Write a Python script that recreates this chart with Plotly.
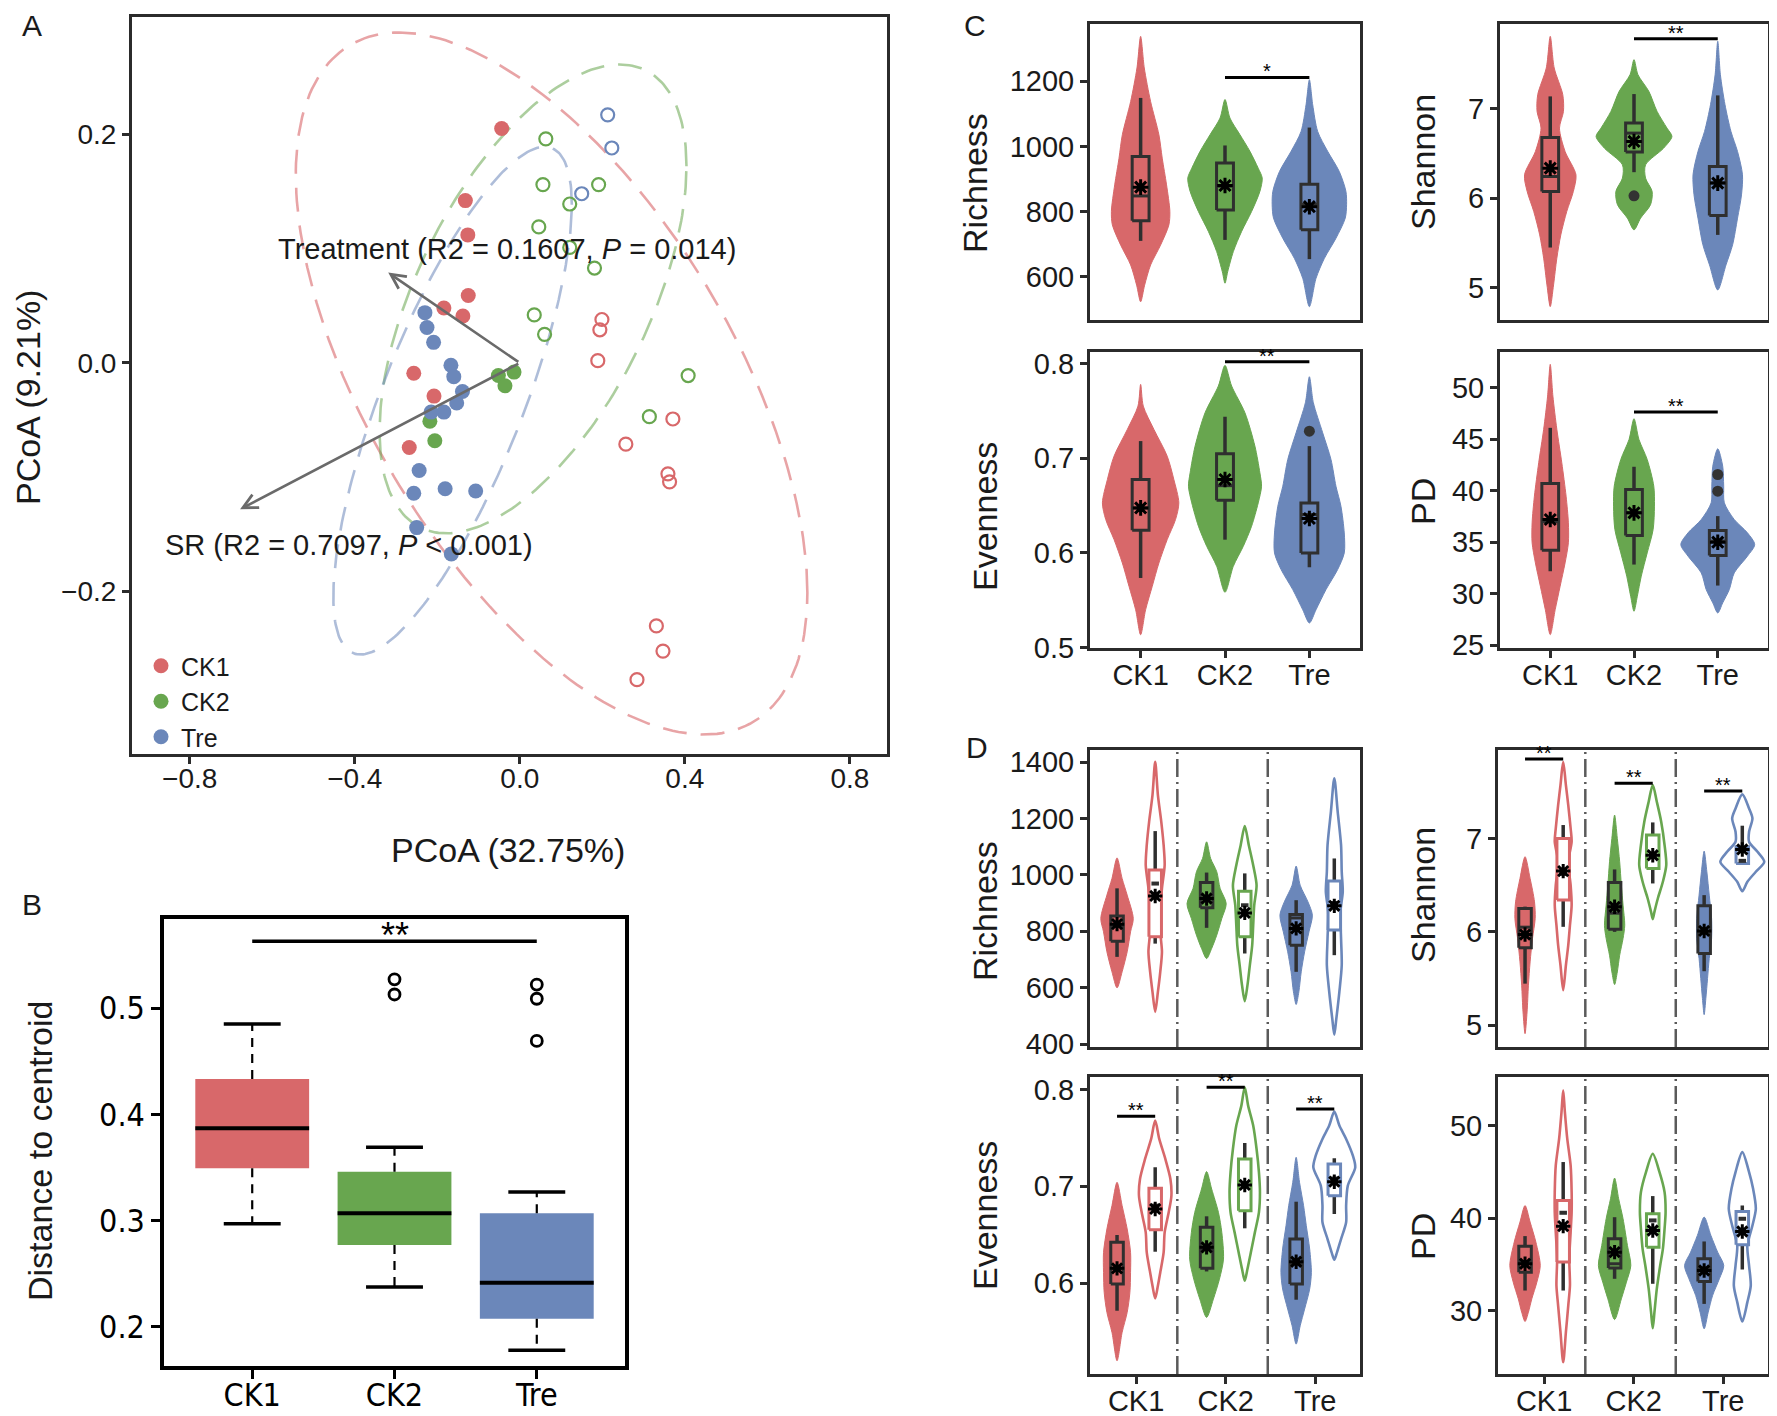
import numpy as np
import plotly.graph_objects as go

W, H = 1777, 1416          # browser window
OFF = 8                    # default body margin of the written page
FW, FH = W - OFF, H - OFF
RED, GREEN, BLUE = '#D8686A', '#68A64F', '#6B87BA'
COLS = [RED, GREEN, BLUE]
GROUPS = ['CK1', 'CK2', 'Tre']
FONT = 'Liberation Sans, Arial, sans-serif'
NARROW = 'Liberation Sans Narrow, DejaVu Sans Condensed, Liberation Sans, sans-serif'
FRAME = '#2b2b2b'
TXT = '#1a1a1a'
BOXLINE = '#2f2f2f'

# ---------------- Panel A : PCoA ----------------
a_ck1_fill_x = [-0.044, -0.132, -0.126, -0.125, -0.184, -0.138, -0.257, -0.208, -0.268]
a_ck1_fill_y = [0.205, 0.142, 0.112, 0.059, 0.048, 0.041, -0.009, -0.029, -0.074]
a_ck1_open_x = [0.199, 0.194, 0.189, 0.371, 0.257, 0.359, 0.363, 0.331, 0.347, 0.284]
a_ck1_open_y = [0.038, 0.029, 0.002, -0.049, -0.071, -0.097, -0.104, -0.230, -0.252, -0.277]
a_ck2_fill_x = [-0.052, -0.014, -0.036, -0.218, -0.206]
a_ck2_fill_y = [-0.011, -0.008, -0.020, -0.051, -0.068]
a_ck2_open_x = [0.063, 0.056, 0.191, 0.121, 0.046, 0.121, 0.181, 0.035, 0.060, 0.408, 0.314]
a_ck2_open_y = [0.196, 0.156, 0.156, 0.139, 0.119, 0.101, 0.083, 0.042, 0.025, -0.011, -0.047]
a_tre_fill_x = [-0.230, -0.225, -0.209, -0.167, -0.160, -0.139, -0.153, -0.184, -0.215, -0.244,
                -0.181, -0.107, -0.257, -0.250, -0.166]
a_tre_fill_y = [0.044, 0.031, 0.018, -0.002, -0.012, -0.025, -0.035, -0.043, -0.043, -0.094,
                -0.110, -0.112, -0.114, -0.144, -0.167]
a_tre_open_x = [0.213, 0.223, 0.150]
a_tre_open_y = [0.217, 0.188, 0.148]
# group ellipses: centre x, centre y, half-extent x, half-extent y, correlation
a_ell_cx = [0.077, 0.032, -0.163]
a_ell_cy = [-0.018, 0.056, -0.033]
a_ell_sx = [0.620, 0.372, 0.289]
a_ell_sy = [0.307, 0.205, 0.222]
a_ell_rho = [-0.596, 0.566, 0.772]
# envfit arrows
a_arrow_x = [-0.319, -0.678]
a_arrow_y = [0.079, -0.128]
a_arrow_lab = ['Treatment (R2 = 0.1607, <i>P</i> = 0.014)', 'SR (R2 = 0.7097, <i>P</i> &lt; 0.001)']
a_lab_x = [-0.031, -0.414]
a_lab_y = [0.0995, -0.159]

# ---------------- Panel B : distance to centroid ----------------
b_q1 = [0.3493, 0.277, 0.2077]
b_med = [0.387, 0.307, 0.2417]
b_q3 = [0.4333, 0.346, 0.307]
b_lo = [0.297, 0.2377, 0.178]
b_hi = [0.485, 0.369, 0.327]
b_out_x = [2, 2, 3, 3, 3]
b_out_y = [0.527, 0.5127, 0.522, 0.5087, 0.469]
b_sig_y = 0.5627

# ---------------- Panel C : alpha diversity by group ----------------
# violin profiles: y values and relative density (half width)
crich_ck1_y = [1338, 1241, 1138, 1036, 964, 882, 800, 759, 697, 636, 574, 523]
crich_ck1_d = [0, 11, 30, 55, 65, 78, 88, 85, 60, 30, 12, 0]
crich_ck2_y = [1144, 1087, 1036, 985, 933, 903, 862, 800, 739, 677, 615, 580]
crich_ck2_d = [0, 15, 45, 75, 100, 112, 105, 80, 50, 25, 8, 0]
crich_tre_y = [1205, 1128, 1046, 985, 923, 862, 821, 780, 718, 656, 595, 508]
crich_tre_d = [0, 10, 25, 55, 90, 110, 112, 108, 80, 45, 20, 0]
crich_q1 = [772, 805, 744]
crich_med = [848, 878, 822]
crich_q3 = [969, 949, 884]
crich_lo = [710, 713, 654]
crich_hi = [1149, 1003, 1058]
crich_mean = [875, 880, 815]

cshan_ck1_y = [7.806, 7.453, 7.155, 6.968, 6.782, 6.521, 6.261, 6.075, 5.851, 5.590, 5.330, 5.032, 4.790]
cshan_ck1_d = [0, 12, 38, 40, 28, 45, 78, 70, 50, 32, 20, 10, 0]
cshan_ck2_y = [7.546, 7.378, 7.192, 6.968, 6.782, 6.689, 6.559, 6.372, 6.224, 6.075, 5.926, 5.777, 5.646]
cshan_ck2_d = [0, 12, 45, 70, 100, 115, 90, 35, 35, 55, 50, 20, 0]
cshan_tre_y = [7.751, 7.378, 7.043, 6.745, 6.521, 6.261, 6.037, 5.777, 5.479, 5.255, 4.976]
cshan_tre_d = [0, 8, 22, 40, 60, 75, 72, 60, 45, 25, 0]
cshan_q1 = [6.074, 6.514, 5.806]
cshan_med = [6.242, 6.726, 6.17]
cshan_q3 = [6.678, 6.838, 6.354]
cshan_lo = [5.449, 6.29, 5.59]
cshan_hi = [7.136, 7.162, 7.147]
cshan_mean = [6.335, 6.633, 6.168]
cshan_out_g = [2]
cshan_out_y = [6.026]

ceven_ck1_y = [0.7778, 0.7549, 0.7303, 0.7021, 0.6775, 0.6528, 0.6352, 0.6141, 0.5894, 0.5648, 0.5401, 0.5137]
ceven_ck1_d = [0, 8, 40, 80, 100, 115, 105, 80, 55, 35, 15, 0]
ceven_ck2_y = [0.7979, 0.7761, 0.7479, 0.7127, 0.6845, 0.6704, 0.6528, 0.6282, 0.607, 0.5859, 0.5585]
ceven_ck2_d = [0, 20, 60, 90, 105, 110, 100, 80, 55, 25, 0]
ceven_tre_y = [0.7859, 0.7585, 0.7268, 0.6986, 0.6704, 0.6493, 0.6211, 0.6, 0.5824, 0.5613, 0.5401, 0.5261]
ceven_tre_d = [0, 12, 40, 65, 80, 95, 105, 105, 85, 50, 20, 0]
ceven_q1 = [0.624, 0.6556, 0.600]
ceven_med = [0.6475, 0.671, 0.6405]
ceven_q3 = [0.6775, 0.7046, 0.6528]
ceven_lo = [0.5736, 0.614, 0.5849]
ceven_hi = [0.718, 0.7437, 0.7127]
ceven_mean = [0.6475, 0.6775, 0.6363]
ceven_out_g = [3]
ceven_out_y = [0.7285]

cpd_ck1_y = [52.26, 49.18, 45.95, 42.71, 39.47, 36.88, 34.94, 32.99, 30.73, 28.46, 26.03]
cpd_ck1_d = [0, 8, 20, 35, 48, 55, 55, 45, 30, 15, 0]
cpd_ck2_y = [46.98, 44.97, 43.03, 40.44, 38.50, 36.23, 33.96, 31.70, 29.75, 28.30]
cpd_ck2_d = [0, 15, 40, 60, 62, 58, 40, 22, 10, 0]
cpd_tre_y = [44.07, 42.38, 40.44, 38.82, 37.20, 35.91, 34.77, 33.64, 32.02, 30.40, 29.11, 28.13]
cpd_tre_d = [0, 15, 18, 20, 50, 90, 112, 90, 50, 35, 15, 0]
cpd_q1 = [34.22, 35.65, 33.7]
cpd_med = [37.0, 37.85, 35.1]
cpd_q3 = [40.70, 40.12, 36.13]
cpd_lo = [32.18, 32.83, 30.79]
cpd_hi = [46.1, 42.32, 37.53]
cpd_mean = [37.2, 37.85, 35.0]
cpd_out_g = [3, 3]
cpd_out_y = [41.57, 39.95]

c_sig_y = [1212, 7.78, 0.8018, 47.63]
c_sig_txt = ['*', '**', '**', '**']

# ---------------- Panel D : alpha diversity by group x treatment ----------------
# order: CK1 filled, CK1 open, CK2 filled, CK2 open, Tre filled, Tre open
drich_ck1f_y = [1060, 987, 928, 845, 798, 727, 656, 599]
drich_ck1f_d = [0, 15, 30, 48, 40, 30, 15, 0]
drich_ck1o_y = [1401, 1283, 1188, 1105, 1034, 952, 869, 798, 727, 656, 585, 514]
drich_ck1o_d = [0, 8, 18, 25, 28, 20, 15, 15, 20, 15, 8, 0]
drich_ck2f_y = [1117, 1058, 1011, 952, 898, 845, 786, 739, 703]
drich_ck2f_d = [0, 12, 30, 40, 58, 45, 30, 15, 0]
drich_ck2o_y = [1173, 1105, 1034, 963, 892, 821, 750, 679, 608, 552]
drich_ck2o_d = [0, 12, 25, 35, 28, 25, 22, 15, 8, 0]
drich_tref_y = [1031, 963, 904, 857, 798, 727, 656, 585, 540]
drich_tref_d = [0, 12, 35, 48, 38, 25, 15, 8, 0]
drich_treo_y = [1342, 1224, 1105, 1011, 940, 869, 774, 679, 585, 490, 433]
drich_treo_d = [0, 10, 20, 22, 25, 18, 20, 22, 15, 6, 0]
drich_q1 = [764.5, 780, 883, 780, 750, 804]
drich_med = [820, 969, 916, 892, 847, 900]
drich_q3 = [854, 1017, 973, 942, 859, 978]
drich_lo = [709, 756, 812, 721, 656, 715]
drich_hi = [952, 1155, 1008, 1005, 910, 1058]
drich_mean = [825, 925, 916, 865, 810, 890]

dshan_ck1f_y = [6.804, 6.571, 6.321, 6.143, 5.929, 5.679, 5.429, 5.143, 4.911]
dshan_ck1f_d = [0, 15, 28, 30, 22, 15, 10, 6, 0]
dshan_ck1o_y = [7.821, 7.571, 7.357, 7.107, 6.964, 6.750, 6.500, 6.286, 6.071, 5.857, 5.643, 5.375]
dshan_ck1o_d = [0, 8, 15, 22, 25, 15, 22, 25, 20, 15, 8, 0]
dshan_ck2f_y = [7.25, 7.0, 6.75, 6.5, 6.286, 6.071, 5.929, 5.75, 5.571, 5.436]
dshan_ck2f_d = [0, 8, 15, 20, 25, 30, 25, 15, 8, 0]
dshan_ck2o_y = [7.571, 7.393, 7.179, 6.929, 6.714, 6.536, 6.357, 6.214, 6.136]
dshan_ck2o_d = [0, 12, 25, 35, 40, 30, 15, 5, 0]
dshan_tref_y = [6.864, 6.643, 6.393, 6.143, 5.929, 5.714, 5.5, 5.286, 5.114]
dshan_tref_d = [0, 8, 15, 22, 22, 15, 10, 5, 0]
dshan_treo_y = [7.471, 7.321, 7.214, 7.071, 6.964, 6.857, 6.75, 6.643, 6.536, 6.436]
dshan_treo_d = [0, 20, 30, 20, 20, 45, 65, 40, 15, 0]
dshan_q1 = [5.829, 6.34, 6.029, 6.679, 5.768, 6.732]
dshan_med = [6.05, 6.62, 6.2, 6.82, 6.0, 6.76]
dshan_q3 = [6.25, 7.0, 6.529, 7.036, 6.279, 6.91]
dshan_lo = [5.446, 6.054, 6.0, 6.518, 5.579, 6.73]
dshan_hi = [6.27, 7.143, 6.668, 7.171, 6.393, 7.136]
dshan_mean = [5.971, 6.65, 6.268, 6.82, 6.01, 6.882]

deven_ck1f_y = [0.7041, 0.68, 0.6559, 0.6317, 0.611, 0.5903, 0.5697, 0.549, 0.5197]
deven_ck1f_d = [0, 15, 30, 40, 40, 38, 30, 15, 0]
deven_ck1o_y = [0.7679, 0.749, 0.7283, 0.7076, 0.6903, 0.6731, 0.6524, 0.6317, 0.611, 0.5972, 0.5841]
deven_ck1o_d = [0, 12, 30, 45, 48, 40, 28, 25, 15, 8, 0]
deven_ck2f_y = [0.7152, 0.6972, 0.6731, 0.6524, 0.6248, 0.6041, 0.5834, 0.5645]
deven_ck2f_d = [0, 15, 35, 45, 50, 38, 20, 0]
deven_ck2o_y = [0.8024, 0.7834, 0.7628, 0.7386, 0.7145, 0.6938, 0.6731, 0.6524, 0.6317, 0.6145, 0.6024]
deven_ck2o_d = [0, 10, 25, 35, 42, 45, 42, 30, 18, 8, 0]
deven_tref_y = [0.73, 0.7041, 0.68, 0.6593, 0.6352, 0.611, 0.5938, 0.5731, 0.5559, 0.5369]
deven_tref_d = [0, 10, 22, 30, 40, 45, 40, 25, 12, 0]
deven_treo_y = [0.7772, 0.7628, 0.749, 0.7317, 0.7197, 0.7007, 0.68, 0.6628, 0.6455, 0.6317, 0.6241]
deven_treo_d = [0, 15, 35, 55, 62, 40, 35, 35, 20, 8, 0]
deven_q1 = [0.599, 0.6552, 0.6152, 0.6748, 0.599, 0.6903]
deven_med = [0.615, 0.68, 0.635, 0.70, 0.62, 0.708]
deven_q3 = [0.6421, 0.6979, 0.6576, 0.7283, 0.6455, 0.7231]
deven_lo = [0.5714, 0.6324, 0.612, 0.6566, 0.5828, 0.6714]
deven_hi = [0.6497, 0.7197, 0.669, 0.7448, 0.6841, 0.729]
deven_mean = [0.6152, 0.6766, 0.6369, 0.7014, 0.622, 0.7048]

dpd_ck1f_y = [41.37, 39.57, 37.40, 34.86, 33.06, 31.25, 29.80, 28.79]
dpd_ck1f_d = [0, 15, 32, 45, 35, 20, 10, 0]
dpd_ck1o_y = [53.85, 51.50, 48.61, 45.71, 42.82, 40.65, 38.48, 35.59, 32.69, 30.52, 27.63, 24.38]
dpd_ck1o_d = [0, 5, 12, 22, 25, 25, 22, 18, 20, 15, 8, 0]
dpd_ck2f_y = [44.34, 42.10, 39.93, 37.03, 34.86, 33.06, 31.25, 29.0]
dpd_ck2f_d = [0, 12, 25, 38, 48, 35, 20, 0]
dpd_ck2o_y = [46.98, 44.99, 42.82, 40.65, 38.84, 36.67, 34.86, 32.33, 29.80, 28.07]
dpd_ck2o_d = [0, 20, 35, 38, 35, 30, 22, 12, 5, 0]
dpd_tref_y = [40.11, 38.12, 36.31, 34.86, 33.42, 31.61, 29.80, 28.0]
dpd_tref_d = [0, 20, 40, 58, 45, 25, 12, 0]
dpd_treo_y = [47.16, 44.99, 43.18, 41.01, 39.20, 37.03, 34.86, 32.69, 30.89, 28.79]
dpd_treo_d = [0, 20, 32, 40, 30, 15, 20, 25, 15, 0]
dpd_q1 = [34.14, 35.23, 34.58, 36.85, 33.13, 37.11]
dpd_med = [35.3, 40.58, 35.05, 39.75, 34.6, 39.93]
dpd_q3 = [36.96, 41.92, 37.76, 40.47, 35.59, 40.72]
dpd_lo = [32.15, 32.15, 33.42, 32.88, 30.7, 34.43]
dpd_hi = [38.05, 46.08, 40.1, 42.39, 37.47, 41.37]
dpd_mean = [35.05, 39.13, 36.31, 38.66, 34.32, 38.55]

dshan_sig_y = [7.85, 7.589, 7.507]
deven_sig_y = [0.7724, 0.8024, 0.78]

# ================= build figure =================
fig = go.Figure()
G = globals()


def clamp(v):
    return min(1.0, max(0.0, v))


def dom_x(p0, p1):
    return [clamp((p0 - OFF) / FW), clamp((p1 - OFF) / FW)]


def dom_y(p0, p1):
    return [clamp(1 - (p1 - OFF) / FH), clamp(1 - (p0 - OFF) / FH)]


def px_x(p):
    return (p - OFF) / FW


def px_y(p):
    return 1 - (p - OFF) / FH


def axis(**kw):
    d = dict(showline=True, mirror=True, linecolor=FRAME, linewidth=3, showgrid=False,
             zeroline=False, ticks='outside', ticklen=7, tickwidth=3, tickcolor=FRAME,
             automargin=False, tickfont=dict(family=FONT, size=28, color=TXT))
    d.update(kw)
    return d


annotations = []
shapes = []


def title_ann(text, px, py, size=34, angle=-90):
    annotations.append(dict(text=text, x=px_x(px), y=px_y(py), xref='paper', yref='paper',
                            showarrow=False, textangle=angle, xanchor='center', yanchor='middle',
                            font=dict(family=FONT, size=size, color=TXT)))


# ---- Panel A ----
t = np.linspace(0, 2 * np.pi, 240)
ell_cols = ['rgba(216,104,106,0.6)', 'rgba(104,166,79,0.55)', 'rgba(107,135,186,0.55)']
for i in range(3):
    ex = a_ell_cx[i] + a_ell_sx[i] * np.cos(t)
    ey = a_ell_cy[i] + a_ell_sy[i] * (a_ell_rho[i] * np.cos(t) + np.sqrt(1 - a_ell_rho[i] ** 2) * np.sin(t))
    fig.add_trace(go.Scatter(x=ex, y=ey, mode='lines', xaxis='x', yaxis='y', showlegend=False,
                             hoverinfo='skip', line=dict(color=ell_cols[i], width=2.6, dash='24px,14px')))

a_sets = [(a_ck1_fill_x, a_ck1_fill_y, a_ck1_open_x, a_ck1_open_y),
          (a_ck2_fill_x, a_ck2_fill_y, a_ck2_open_x, a_ck2_open_y),
          (a_tre_fill_x, a_tre_fill_y, a_tre_open_x, a_tre_open_y)]
for i, (fx, fy, ox, oy) in enumerate(a_sets):
    fig.add_trace(go.Scatter(x=ox, y=oy, mode='markers', xaxis='x', yaxis='y', showlegend=False,
                             marker=dict(symbol='circle-open', size=13, color=COLS[i], line=dict(width=2.2))))
for i, (fx, fy, ox, oy) in enumerate(a_sets):
    fig.add_trace(go.Scatter(x=fx, y=fy, mode='markers', xaxis='x', yaxis='y', name=GROUPS[i],
                             marker=dict(symbol='circle', size=15, color=COLS[i])))

for i in range(2):
    annotations.append(dict(x=a_arrow_x[i], y=a_arrow_y[i], ax=0, ay=0, xref='x', yref='y',
                            axref='x', ayref='y', showarrow=True, arrowhead=5, arrowsize=1.1,
                            arrowwidth=2.6, arrowcolor='#6a6a6a', text=''))
    annotations.append(dict(x=a_lab_x[i], y=a_lab_y[i], xref='x', yref='y', showarrow=False,
                            text=a_arrow_lab[i], font=dict(family=FONT, size=29, color=TXT)))

# ---- Panel B ----
b_pos = [1, 2, 3]
fig.add_trace(go.Bar(x=b_pos, y=[b_q3[i] - b_q1[i] for i in range(3)], base=b_q1, width=0.8,
                     marker=dict(color=COLS, line=dict(width=0)), xaxis='x2', yaxis='y2',
                     showlegend=False, hoverinfo='skip'))
wx, wy, cx_, cy_, mx, my = [], [], [], [], [], []
for i, p in enumerate(b_pos):
    wx += [p, p, None, p, p, None]
    wy += [b_q3[i], b_hi[i], None, b_q1[i], b_lo[i], None]
    cx_ += [p - 0.2, p + 0.2, None, p - 0.2, p + 0.2, None]
    cy_ += [b_hi[i], b_hi[i], None, b_lo[i], b_lo[i], None]
    mx += [p - 0.4, p + 0.4, None]
    my += [b_med[i], b_med[i], None]
fig.add_trace(go.Scatter(x=wx, y=wy, mode='lines', xaxis='x2', yaxis='y2', showlegend=False,
                         line=dict(color='black', width=2.2, dash='9px,7px')))
fig.add_trace(go.Scatter(x=cx_, y=cy_, mode='lines', xaxis='x2', yaxis='y2', showlegend=False,
                         line=dict(color='black', width=3.5)))
fig.add_trace(go.Scatter(x=mx, y=my, mode='lines', xaxis='x2', yaxis='y2', showlegend=False,
                         line=dict(color='black', width=4)))
fig.add_trace(go.Scatter(x=b_out_x, y=b_out_y, mode='markers', xaxis='x2', yaxis='y2', showlegend=False,
                         marker=dict(symbol='circle-open', size=11, color='black', line=dict(width=2.8))))
fig.add_trace(go.Scatter(x=[1, 3], y=[b_sig_y, b_sig_y], mode='lines', xaxis='x2', yaxis='y2',
                         showlegend=False, line=dict(color='black', width=3.5)))
annotations.append(dict(x=2, y=b_sig_y, xref='x2', yref='y2', text='**', showarrow=False,
                        yanchor='bottom', yshift=-17, font=dict(family=FONT, size=36, color='black')))


# ---- violins / boxes helpers ----
def violin(xa, ya, c, ys, ds, scale, color, hollow):
    hw = np.asarray(ds, float) * scale
    ys = np.asarray(ys, float)
    xs = list(c + hw) + list((c - hw)[::-1][1:])
    yy = list(ys) + list(ys[::-1][1:])
    fig.add_trace(go.Scatter(x=xs, y=yy, mode='lines', fill='toself',
                             fillcolor='white' if hollow else color,
                             line=dict(color=color, width=2.6 if hollow else 1, shape='spline', smoothing=0.8),
                             xaxis=xa, yaxis=ya, showlegend=False, hoverinfo='skip'))


def box(xa, ya, p, q1, med, q3, lo, hi, hw, line_col, hollow):
    # whiskers
    fig.add_trace(go.Scatter(x=[p, p, None, p, p], y=[q3, hi, None, q1, lo], mode='lines',
                             xaxis=xa, yaxis=ya, showlegend=False, hoverinfo='skip',
                             line=dict(color=BOXLINE, width=3.5)))
    # box
    fig.add_trace(go.Scatter(x=[p - hw, p + hw, p + hw, p - hw, p - hw], y=[q1, q1, q3, q3, q1],
                             mode='lines', fill='toself',
                             fillcolor='white' if hollow else 'rgba(0,0,0,0)',
                             xaxis=xa, yaxis=ya, showlegend=False, hoverinfo='skip',
                             line=dict(color=line_col, width=3)))
    # median
    mw = hw * 0.6 if hollow else hw
    fig.add_trace(go.Scatter(x=[p - mw, p + mw], y=[med, med], mode='lines',
                             xaxis=xa, yaxis=ya, showlegend=False, hoverinfo='skip',
                             line=dict(color=BOXLINE, width=4 if hollow else 3)))


# ---- Panel C ----
c_panels = ['crich', 'cshan', 'ceven', 'cpd']
C_SCALE = 1 / 254.0
for k, pn in enumerate(c_panels):
    xa, ya = 'x%d' % (3 + k), 'y%d' % (3 + k)
    for i, g in enumerate(['ck1', 'ck2', 'tre']):
        violin(xa, ya, i + 1, G['%s_%s_y' % (pn, g)], G['%s_%s_d' % (pn, g)], C_SCALE, COLS[i], False)
    for i in range(3):
        box(xa, ya, i + 1, G[pn + '_q1'][i], G[pn + '_med'][i], G[pn + '_q3'][i], G[pn + '_lo'][i],
            G[pn + '_hi'][i], 0.1, BOXLINE, False)
    if pn + '_out_g' in G:
        fig.add_trace(go.Scatter(x=G[pn + '_out_g'], y=G[pn + '_out_y'], mode='markers', xaxis=xa, yaxis=ya,
                                 showlegend=False, marker=dict(size=11, color='#333333')))
    fig.add_trace(go.Scatter(x=[1, 2, 3], y=G[pn + '_mean'], mode='markers', xaxis=xa, yaxis=ya,
                             showlegend=False,
                             marker=dict(symbol='asterisk-open', size=13, color='black',
                                         line=dict(width=3, color='black'))))
    fig.add_trace(go.Scatter(x=[2, 3], y=[c_sig_y[k]] * 2, mode='lines', xaxis=xa, yaxis=ya,
                             showlegend=False, line=dict(color='black', width=3)))
    annotations.append(dict(x=2.5, y=c_sig_y[k], xref=xa, yref=ya, text=c_sig_txt[k], showarrow=False,
                            yanchor='bottom', yshift=-7, font=dict(family=FONT, size=20, color='black')))

# ---- Panel D ----
d_panels = ['drich', 'dshan', 'deven', 'dpd']
D_SCALE = 1 / 265.0
DODGE = 0.213
d_keys = ['ck1f', 'ck1o', 'ck2f', 'ck2o', 'tref', 'treo']
d_pos = []
for gi in range(3):
    d_pos += [gi + 1 - DODGE, gi + 1 + DODGE]
d_cols = [RED, RED, GREEN, GREEN, BLUE, BLUE]
d_hollow = [False, True, False, True, False, True]
for k, pn in enumerate(d_panels):
    xa, ya = 'x%d' % (7 + k), 'y%d' % (7 + k)
    for sep in [1.46, 2.47]:
        shapes.append(dict(type='line', xref=xa, yref=ya + ' domain', x0=sep, x1=sep, y0=0, y1=1,
                           line=dict(color='#5a5a5a', width=2.5, dash='18px,5px,2px,5px'), layer='below'))
    for j, key in enumerate(d_keys):
        violin(xa, ya, d_pos[j], G['%s_%s_y' % (pn, key)], G['%s_%s_d' % (pn, key)], D_SCALE,
               d_cols[j], d_hollow[j])
    for j in range(6):
        box(xa, ya, d_pos[j], G[pn + '_q1'][j], G[pn + '_med'][j], G[pn + '_q3'][j], G[pn + '_lo'][j],
            G[pn + '_hi'][j], 0.07, d_cols[j] if d_hollow[j] else BOXLINE, d_hollow[j])
    fig.add_trace(go.Scatter(x=d_pos, y=G[pn + '_mean'], mode='markers', xaxis=xa, yaxis=ya,
                             showlegend=False,
                             marker=dict(symbol='asterisk-open', size=12, color='black',
                                         line=dict(width=3, color='black'))))
    if pn + '_sig_y' in G:
        sy = G[pn + '_sig_y']
        sx, syy = [], []
        for gi in range(3):
            sx += [gi + 1 - DODGE, gi + 1 + DODGE, None]
            syy += [sy[gi], sy[gi], None]
            annotations.append(dict(x=gi + 1, y=sy[gi], xref=xa, yref=ya, text='**', showarrow=False,
                                    yanchor='bottom', yshift=-7,
                                    font=dict(family=FONT, size=20, color='black')))
        fig.add_trace(go.Scatter(x=sx, y=syy, mode='lines', xaxis=xa, yaxis=ya, showlegend=False,
                                 line=dict(color='black', width=3)))

# ================= layout =================
layout = dict(width=FW, height=FH, margin=dict(l=0, r=0, t=0, b=0, autoexpand=False),
              plot_bgcolor='white', paper_bgcolor='white', showlegend=True,
              font=dict(family=FONT, color=TXT),
              legend=dict(x=px_x(141), y=px_y(760), xanchor='left', yanchor='bottom',
                          bgcolor='rgba(0,0,0,0)', font=dict(family=FONT, size=25, color=TXT),
                          itemwidth=30, tracegroupgap=0))

layout['xaxis'] = axis(domain=dom_x(132, 887), range=[-0.94, 0.89], tickvals=[-0.8, -0.4, 0, 0.4, 0.8],
                       tickformat='.1f', anchor='y', ticklabelstandoff=-10)
layout['yaxis'] = axis(domain=dom_y(16.5, 754), range=[-0.342, 0.303], tickvals=[-0.2, 0, 0.2],
                       tickformat='.1f', anchor='x')

b_font = dict(family=NARROW, size=32, color='black')
layout['xaxis2'] = axis(domain=dom_x(164, 625), range=[0.38, 3.62], tickvals=[1, 2, 3], ticktext=GROUPS,
                        anchor='y2', linecolor='black', tickcolor='black', linewidth=3.5, ticklen=9,
                        tickfont=b_font, ticklabelstandoff=-11)
layout['yaxis2'] = axis(domain=dom_y(919, 1366), range=[0.1633, 0.5837], tickvals=[0.2, 0.3, 0.4, 0.5],
                        tickformat='.1f', anchor='x2', linecolor='black', tickcolor='black', linewidth=3.5,
                        ticklen=9, tickfont=b_font)

sub_dom = [((1090, 1360), (24, 320)), ((1500, 1768), (24, 320)),
           ((1090, 1360), (352, 648)), ((1500, 1768), (352, 648)),
           ((1090, 1360), (750, 1047)), ((1498, 1768), (750, 1047)),
           ((1090, 1360), (1077, 1374)), ((1498, 1768), (1077, 1374))]
y_ranges = [[467, 1376], [4.64, 7.944], [0.4997, 0.812], [24.73, 53.46],
            [389.4, 1442.6], [4.768, 7.946], [0.506, 0.813], [23.1, 55.3]]
y_ticks = [[600, 800, 1000, 1200], [5, 6, 7], [0.5, 0.6, 0.7, 0.8], [25, 30, 35, 40, 45, 50],
           [400, 600, 800, 1000, 1200, 1400], [5, 6, 7], [0.6, 0.7, 0.8], [30, 40, 50]]
y_fmt = ['d', 'd', '.1f', 'd', 'd', 'd', '.1f', 'd']
for n in range(8):
    (xd0, xd1), (yd0, yd1) = sub_dom[n]
    idx = 3 + n
    bottom_row = n in (2, 3, 6, 7)
    xr = [0.4, 3.6] if n < 4 else [0.485, 3.5]
    layout['xaxis%d' % idx] = axis(domain=dom_x(xd0, xd1), range=xr, tickvals=[1, 2, 3], ticktext=GROUPS,
                                   anchor='y%d' % idx, showticklabels=bottom_row,
                                   ticks='outside' if bottom_row else '', ticklabelstandoff=-8,
                                   tickfont=dict(family=FONT, size=29, color=TXT))
    layout['yaxis%d' % idx] = axis(domain=dom_y(yd0, yd1), range=y_ranges[n], tickvals=y_ticks[n],
                                   tickformat=y_fmt[n], anchor='x%d' % idx,
                                   tickfont=dict(family=FONT, size=29, color=TXT))

# axis titles and panel letters
title_ann('PCoA (32.75%)', 508, 850, angle=0)
title_ann('PCoA (9.21%)', 28, 398)
title_ann('Distance to centroid', 40, 1151)
title_ann('Richness', 975, 183)
title_ann('Shannon', 1423, 162)
title_ann('Evenness', 985, 516)
title_ann('PD', 1423, 502)
title_ann('Richness', 985, 911)
title_ann('Shannon', 1423, 895)
title_ann('Evenness', 985, 1215)
title_ann('PD', 1423, 1237)
for letter, px, py in [('A', 32, 25), ('B', 32, 904), ('C', 975, 25), ('D', 977, 747)]:
    title_ann(letter, px, py, size=30, angle=0)

layout['annotations'] = annotations
layout['shapes'] = shapes
fig.update_layout(**layout)
fig.write_html('out.html')
